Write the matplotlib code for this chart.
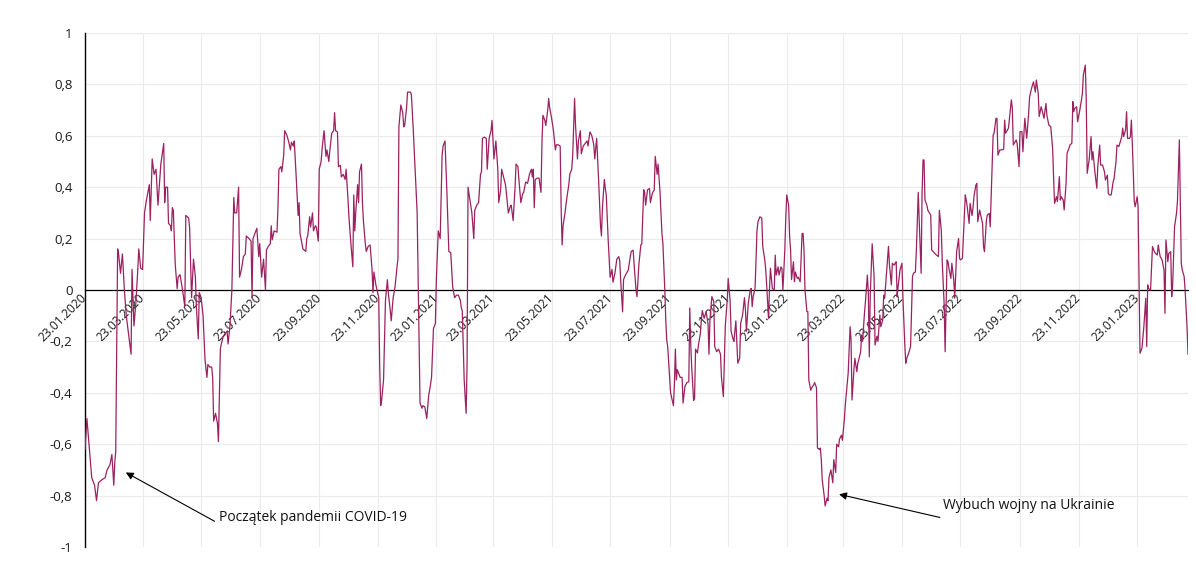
import numpy as np
import pandas as pd
import matplotlib
matplotlib.use('Agg')
import matplotlib.pyplot as plt
import matplotlib.dates as mdates
from matplotlib.ticker import FuncFormatter

plt.rcParams['font.family'] = ['Open Sans', 'DejaVu Sans']

START = '2020-01-23'

# day offsets from START and the values
days_a = [0,2,7,10,12,14,17,21,23,26,28,30,31,32,34,35,37,39,41,43,48,49,51,53,55,56,58,60,62,64,
          67,68,70,72,74,76,79,82,83,84,86,87,89,90,91,92,94,96,97,99,102,104,105,108,109,111,113,115,116,118,
          119,121,123,125,127,128,130,132,133,134,136,138,139,141,142,144,148,149,151,153,155,156,158,160,161,163,165,167,168,171,
          173,174,175,179,181,182,184,186]
vals_a = [-0.62,-0.50,-0.73,-0.76,-0.82,-0.75,-0.74,-0.73,-0.70,-0.68,-0.64,-0.76,-0.67,-0.63,0.16,0.14,0.065,0.14,0.0,-0.10,
          -0.25,0.08,-0.14,-0.05,0.08,0.16,0.085,0.08,0.30,0.35,0.41,0.27,0.51,0.45,0.47,0.33,0.49,0.57,0.34,0.40,
          0.40,0.26,0.25,0.23,0.32,0.31,0.10,0.005,0.05,0.06,-0.01,-0.065,0.29,0.28,0.24,-0.03,0.12,0.05,-0.065,-0.19,
          -0.01,-0.03,-0.10,-0.27,-0.34,-0.29,-0.30,-0.30,-0.34,-0.51,-0.48,-0.52,-0.59,-0.23,-0.21,-0.18,-0.16,-0.21,-0.14,0.0,
          0.36,0.30,0.30,0.40,0.05,0.08,0.13,0.14,0.21,0.20,0.19,-0.03,0.20,0.24,0.13,0.18,0.05,0.12]

days_b = [188,189,191,193,194,195,197,200,201,202,204,205,207,208,210,212,214,215,217,218,
          220,222,223,224,226,227,230,231,232,234,235,237,238,240,241,243,244,246,247,249,
          251,252,254,255,257,259,260,261,263,264,266,267,269,271,272,274,275,277,279,280,
          281,282,284,285,286,288,289,290,292,293,295,297,299,300,301,303,306,307,308,309,
          311,313,315,316,318,319,321,323,325,326,327,329,331,332,333,335,336,339,340,342,
          346,349,351,352,354,356,358,359,361,363,365,366,368,370,372,373]
vals_b = [0.0,0.156,0.17,0.18,0.25,0.195,0.23,0.225,0.32,0.47,0.48,0.46,0.525,0.62,0.605,0.58,0.545,0.575,0.56,0.58,
          0.44,0.29,0.34,0.22,0.18,0.16,0.15,0.2,0.21,0.285,0.245,0.3,0.23,0.25,0.245,0.19,0.47,0.50,0.55,0.62,
          0.52,0.545,0.5,0.54,0.61,0.62,0.69,0.62,0.615,0.48,0.485,0.44,0.45,0.43,0.47,0.35,0.28,0.18,0.09,0.37,
          0.23,0.3,0.41,0.34,0.46,0.49,0.34,0.27,0.18,0.15,0.17,0.175,0.08,-0.01,0.07,0.02,-0.03,-0.30,-0.45,-0.43,
          -0.35,-0.04,0.04,-0.013,-0.08,-0.12,-0.03,0.013,0.09,0.12,0.635,0.72,0.69,0.635,0.64,0.71,0.77,0.77,0.76,0.62,
          0.3,-0.44,-0.46,-0.45,-0.455,-0.5,-0.41,-0.39,-0.34,-0.15,-0.13,0.04,0.23,0.2,0.525,0.56]

days_c = [375,377,379,381,383,385,387,389,391,392,393,395,397,398,399,401,403,405,406,408,
          410,412,413,414,416,418,419,421,423,424,426,428,430,431,433,434,436,438,439,441,
          443,444,446,448,449,451,452,454,456,457,459,461,463,465,466,467,468,469,471,473,
          475,476,477,479,480,482,483,484,486,488,490,491,493,495,496,497,498,500,502,504,
          505,507,508,510,511,513,514,516,517,519,521,523,524,525,526,528,530,531,533,535,
          537,538,539,541,542,543,545,547,549,550,552,554,556,557,558,560,561]
vals_c = [0.58,0.38,0.15,0.145,0.013,-0.03,-0.02,-0.02,-0.04,-0.07,-0.08,-0.35,-0.48,-0.29,0.40,0.35,0.30,0.2,0.31,0.33,
          0.34,0.45,0.46,0.59,0.595,0.59,0.47,0.59,0.62,0.66,0.51,0.58,0.47,0.34,0.39,0.47,0.44,0.41,0.375,0.30,
          0.325,0.33,0.27,0.40,0.49,0.48,0.43,0.34,0.375,0.38,0.42,0.415,0.45,0.47,0.44,0.47,0.32,0.43,0.435,0.435,
          0.38,0.57,0.68,0.66,0.64,0.70,0.745,0.71,0.67,0.62,0.545,0.565,0.565,0.56,0.32,0.175,0.25,0.30,0.36,0.41,
          0.45,0.47,0.52,0.745,0.64,0.51,0.58,0.62,0.53,0.56,0.57,0.58,0.56,0.59,0.615,0.60,0.565,0.51,0.59,0.43,
          0.25,0.21,0.32,0.43,0.395,0.37,0.195,0.05,0.08,0.03,0.065,0.12,0.13,0.115,0.04,-0.085,0.04]

days_d = [562,564,566,568,569,571,572,574,575,577,579,580,582,583,584,586,588,589,591,593,
          594,596,597,598,599,601,602,604,605,606,607,609,610,613,614,615,616,617,620,622,
          623,625,627,629,630,631,632,634,635,636,638,639,641,642,643,645,647,649,650,651,
          653,655,656,658,660,662,663,665,666,667,669,670,672,673,675,676,678,680,682,683,
          685,687,688,689,691,693,694,695,696,698,700,701,703,705,706,708,709,710,712,713,
          714,716,718,719,720,722,723,725,726,727,729,730,731,733,734,735,736,738,739,740,
          742,743,745,747,748,749,750]
vals_d = [0.05,0.065,0.078,0.13,0.15,0.155,0.10,0.0,-0.026,0.10,0.175,0.18,0.39,0.38,0.33,0.39,0.395,0.34,0.376,0.39,
          0.52,0.45,0.49,0.435,0.38,0.22,0.18,0.0,-0.117,-0.195,-0.22,-0.34,-0.40,-0.45,-0.363,-0.23,-0.35,-0.31,-0.34,-0.34,
          -0.44,-0.375,-0.36,-0.357,-0.07,-0.21,-0.30,-0.43,-0.42,-0.23,-0.245,-0.215,-0.17,-0.12,-0.08,-0.11,-0.085,-0.13,-0.25,-0.117,
          -0.026,-0.045,-0.22,-0.24,-0.23,-0.25,-0.34,-0.415,-0.285,-0.14,-0.04,0.045,-0.04,-0.16,-0.19,-0.2,-0.12,-0.285,-0.265,-0.13,
          -0.097,-0.03,-0.078,-0.16,-0.05,0.0,0.006,-0.065,-0.026,0.006,0.23,0.265,0.285,0.28,0.17,0.12,0.085,0.026,-0.11,0.0,
          0.085,0.006,0.0,0.136,0.058,0.09,0.058,0.09,0.084,0.0,0.155,0.28,0.37,0.33,0.21,0.155,0.04,0.11,0.032,0.07,
          0.045,0.05,0.032,0.22,0.22,0.155,0.0]

days_e = [752,753,754,756,757,759,760,762,763,765,766,767,768,770,771,773,774,775,777,779,
          780,782,783,785,786,788,789,791,792,794,795,797,798,799,801,802,804,805,806,808,
          809,810,812,813,815,816,817,818,819,820,822,823,825,826,828,829,831,832,833,835,
          837,838,840,841,843,844,845,846,847,849,851,852,854,855,856,858,860,862,863,865,
          866,868,869,871,872,873,874,875,877,878,880,881,882,884,885,887,889,890,892,893,
          895,896,898,899,900,902,903,905,906,908,910,911,912,914,915,917,918,919,921,922,
          924,925,926,928,929,930,932,933,935,936]
vals_e = [-0.084,-0.084,-0.35,-0.39,-0.38,-0.37,-0.36,-0.38,-0.615,-0.62,-0.615,-0.66,-0.74,-0.80,-0.84,-0.81,-0.82,-0.73,-0.70,-0.75,
          -0.66,-0.71,-0.60,-0.61,-0.58,-0.565,-0.585,-0.505,-0.447,-0.363,-0.324,-0.143,-0.195,-0.428,-0.31,-0.266,-0.318,-0.285,-0.272,-0.24,
          -0.175,-0.2,-0.09,-0.045,0.058,-0.013,-0.26,-0.02,0.084,0.18,0.052,-0.214,-0.18,-0.2,-0.097,-0.143,-0.117,-0.02,-0.032,0.07,
          0.17,0.097,0.02,0.104,0.097,0.104,0.11,-0.026,0.013,0.078,0.104,-0.026,-0.214,-0.285,-0.266,-0.246,-0.22,0.052,0.065,0.07,
          0.15,0.38,0.27,0.065,0.38,0.506,0.506,0.35,0.33,0.31,0.298,0.29,0.155,0.148,0.143,0.136,0.13,0.31,0.233,0.11,
          -0.058,-0.24,0.117,0.11,0.084,0.045,0.104,0.039,-0.032,0.15,0.2,0.123,0.117,0.123,0.207,0.37,0.35,0.324,0.259,0.337,
          0.29,0.318,0.363,0.408,0.415,0.266,0.311,0.292,0.259,0.168]

days_f = [937,939,940,942,943,944,946,947,949,950,951,953,955,957,958,959,961,962,965,966,
          967,969,970,971,973,974,976,977,979,981,983,984,986,988,990,991,993,994,996,997,
          999,1001,1002,1004,1006,1008,1009,1010,1012,1013,1015,1016,1017,1019,1020,1022,1023,1025,1026,1028,
          1029,1030,1031,1033,1034,1036,1038,1039,1040,1042,1043,1044,1046,1048,1049,1050,1052,1054,1055,1057,
          1058,1060,1062,1063,1065,1066,1067,1069,1071,1072,1074,1075,1077,1078,1080,1081,1082,1084,1085,1086,
          1088,1089,1090,1091,1093,1094,1096,1097,1098,1099,1101,1103,1105,1106,1107,1108,1110,1112,1114,1115,
          1117,1118,1120,1122,1124,1125,1126,1128,1129,1131,1132,1133,1135,1137,1138,1139,1140,1142,1143,1145,
          1146,1148,1149]
vals_f = [0.149,0.272,0.292,0.298,0.246,0.370,0.603,0.61,0.668,0.668,0.525,0.545,0.545,0.548,0.661,0.61,0.623,0.63,0.74,0.707,
          0.564,0.577,0.584,0.571,0.48,0.616,0.616,0.538,0.668,0.59,0.687,0.752,0.784,0.81,0.77,0.817,0.765,0.675,0.713,0.70,
          0.668,0.726,0.68,0.642,0.636,0.551,0.434,0.337,0.363,0.344,0.441,0.35,0.363,0.35,0.311,0.415,0.532,0.551,0.564,0.571,
          0.733,0.694,0.707,0.713,0.655,0.694,0.739,0.765,0.837,0.875,0.739,0.454,0.506,0.597,0.506,0.538,0.46,0.396,0.48,0.564,
          0.486,0.486,0.46,0.428,0.447,0.376,0.37,0.37,0.42,0.434,0.499,0.564,0.558,0.571,0.597,0.63,0.597,0.623,0.694,0.59,
          0.59,0.597,0.661,0.571,0.344,0.324,0.363,0.324,0.026,-0.246,-0.227,-0.143,-0.032,-0.22,0.02,0.006,0.0,0.169,0.149,0.143,
          0.136,0.175,0.13,0.117,0.078,-0.091,0.195,0.11,0.143,0.149,-0.026,0.02,0.246,0.298,0.344,0.46,0.584,0.104,0.078,0.052,
          0.0,-0.143,-0.25]

days = days_a + days_b + days_c + days_d + days_e + days_f
values = vals_a + vals_b + vals_c + vals_d + vals_e + vals_f

y_ticks = [-1, -0.8, -0.6, -0.4, -0.2, 0, 0.2, 0.4, 0.6, 0.8, 1]
tick_dates = pd.date_range('2020-01-01', '2023-01-01', freq='2MS') + pd.Timedelta(days=22)
last_day = 1149

ann_covid = 'Początek pandemii COVID-19'
ann_war = 'Wybuch wojny na Ukrainie'

start = pd.Timestamp(START)
def day(d):
    return start + pd.Timedelta(days=d)

dates = start + pd.to_timedelta(days, unit='D')

fig = plt.figure(figsize=(11.96, 5.65), dpi=100)
ax = fig.add_axes([85/1196, 18/565, 1103/1196, 514/565])

ax.plot(dates, values, color='#9b2160', lw=0.9, zorder=3)

ax.set_ylim(-1, 1)
ax.set_xlim(start, day(last_day))
ax.set_yticks(y_ticks)

def fmt(v, pos):
    s = ('%.1f' % v).replace('.', ',')
    if s.endswith(',0'):
        s = s[:-2]
    if s == '-0':
        s = '0'
    return s
ax.yaxis.set_major_formatter(FuncFormatter(fmt))

ax.set_xticks(tick_dates)
ax.xaxis.set_major_formatter(mdates.DateFormatter('%d.%m.%Y'))

ax.tick_params(axis='both', length=0, colors='#1a1a1a')
ax.tick_params(axis='y', pad=9, labelsize=9.5)
ax.tick_params(axis='x', pad=4, labelsize=8.7, labelrotation=45)

ax.spines['bottom'].set_position(('data', 0))
ax.spines['bottom'].set_linewidth(0.9)
ax.spines['bottom'].set_zorder(2)
ax.spines['left'].set_linewidth(1.0)
ax.spines['top'].set_visible(False)
ax.spines['right'].set_visible(False)

ax.grid(True, color='#ebebeb', lw=0.8, zorder=0)
ax.set_axisbelow(True)
ax.axhline(1, color='#ebebeb', lw=0.8, zorder=0)

# annotations
ax.annotate('', xy=(day(42.5), -0.71), xytext=(day(135), -0.90),
            arrowprops=dict(arrowstyle='-|>', color='black', lw=0.8,
                            mutation_scale=11, shrinkA=0, shrinkB=0))
ax.text(day(139.5), -0.885, ann_covid, fontsize=10, va='center', ha='left', color='#111111')

ax.annotate('', xy=(day(785.5), -0.795), xytext=(day(890.5), -0.885),
            arrowprops=dict(arrowstyle='-|>', color='black', lw=0.8,
                            mutation_scale=11, shrinkA=0, shrinkB=0))
ax.text(day(893.5), -0.84, ann_war, fontsize=10, va='center', ha='left', color='#111111')

fig.canvas.draw()
for lab in ax.get_xticklabels():
    lab.set_horizontalalignment('right')
    lab.set_verticalalignment('center')
    lab.set_rotation_mode('anchor')
    lab.set_zorder(4)

fig.savefig('out.png', dpi=100, facecolor='white')
